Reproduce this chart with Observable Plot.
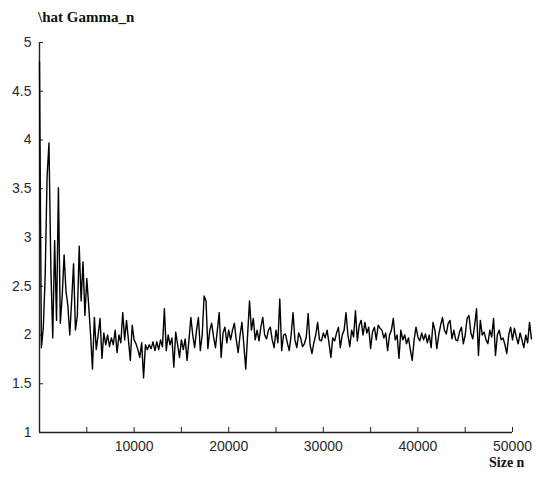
<!DOCTYPE html>
<html>
<head>
<meta charset="utf-8">
<script src="https://cdn.jsdelivr.net/npm/d3@7"></script>
<script src="https://cdn.jsdelivr.net/npm/@observablehq/plot@0.6"></script>
<style>
  html, body { margin: 0; padding: 0; background: #fff; }
  #wrap { position: relative; width: 543px; height: 480px; overflow: hidden; }
  .lbl { position: absolute; font-family: "Liberation Serif", "Times New Roman", serif; font-weight: bold; color: #111; white-space: nowrap; }
</style>
</head>
<body>
<div id="wrap">
  <div class="lbl" id="title" style="left:38px; top:9px; font-size:15px;">\hat Gamma_n</div>
  <div class="lbl" id="xlab" style="left:489px; top:455px; font-size:14px;">Size n</div>
</div>
<script>
// sample sizes n (step 200, 0 .. 52000)
const sizes = d3.range(0, 52001, 200);
// estimated \hat Gamma_n values
const gammaHat = [
  4.8, 1.87, 2.07, 2.6, 3.62, 3.97, 2.69, 1.97, 2.97, 2.15,
  3.51, 2.12, 2.4, 2.82, 2.45, 2.3, 2.0, 2.35, 2.73, 2.05,
  2.2, 2.91, 2.35, 2.75, 2.2, 2.58, 2.3, 2.0, 1.65, 2.18,
  1.85,
  2.0, 2.17, 1.76, 2.02, 1.9, 2.0, 1.88, 1.97, 1.9, 2.05,
  1.82, 2.0, 1.92, 2.23, 1.95, 2.15, 1.95, 1.74, 2.1, 1.95,
  1.91, 1.85, 1.77, 1.92, 1.56, 1.9, 1.85, 1.9, 1.86, 1.93,
  1.84, 1.93, 1.85, 1.95, 1.88, 2.27, 1.84, 2.0, 1.9, 1.97,
  1.67, 2.03, 1.9, 1.77, 1.95, 1.85, 1.96, 1.74, 1.95, 2.18,
  2.0, 1.87, 2.05, 2.18, 1.84, 2.0, 2.40, 2.35, 1.86, 2.05,
  2.12, 1.98, 1.87, 2.05, 2.23, 1.77, 2.02, 2.08, 1.92, 2.05,
  1.95, 2.05, 2.12, 1.95, 1.82, 2.0, 2.13, 1.9, 1.65, 2.0,
  2.35, 2.05, 2.17, 1.95, 2.05, 1.94, 2.08, 2.18, 2.0, 1.96,
  2.05, 2.08, 1.95, 1.87, 2.05, 1.92, 2.37, 1.84, 2.0, 2.01,
  1.92, 1.84, 2.0, 2.23, 1.95, 1.87, 2.02, 1.97, 1.88, 1.91,
  1.98, 2.22, 1.9, 1.81, 1.92, 2.0, 2.13, 1.95, 1.94, 2.02,
  1.97, 2.05, 1.92, 1.77, 1.97, 1.94, 2.02, 2.08, 1.87, 2.0,
  2.05, 2.23, 2.0, 1.88, 2.05, 1.98, 2.25, 1.94, 2.1, 2.15,
  2.0, 2.13, 2.02, 2.08, 1.86, 2.03, 2.08, 1.95, 2.1, 2.07,
  2.05, 1.97, 2.02, 1.84, 2.0, 2.05, 2.17, 1.95, 2.0, 1.76,
  2.05, 1.95, 2.0, 1.91, 1.97, 1.85, 1.74, 1.95, 2.08, 1.98,
  1.94, 2.02, 1.95, 2.01, 1.92, 2.0, 1.87, 2.13, 2.05, 1.86,
  2.0, 2.1, 2.18, 2.05, 2.01, 2.12, 2.15, 1.96, 2.05, 1.95,
  1.94, 2.03, 2.08, 1.91, 2.0, 2.17, 2.2, 2.02, 1.96, 2.1,
  2.27, 1.79, 2.15, 2.0, 2.03, 1.95, 1.91, 2.05, 1.98, 2.17,
  1.79, 2.0, 2.05, 1.95, 1.97, 1.9, 1.81, 2.0, 2.08, 1.95,
  2.07, 1.98, 1.91, 2.02, 1.95, 1.87, 2.0, 1.92, 2.13, 1.96
];
const xTicks = d3.range(5000, 50001, 5000);
const xLabeled = [10000, 20000, 30000, 40000, 50000];
const yTicks = [1, 1.5, 2, 2.5, 3, 3.5, 4, 4.5, 5];

const data = sizes.map((n, i) => ({n, g: gammaHat[i]})).filter(d => d.g !== undefined);

const chart = Plot.plot({
  width: 543,
  height: 480,
  marginLeft: 39,
  marginRight: 31,
  marginTop: 42,
  marginBottom: 48,
  x: {domain: [0, 50000]},
  y: {domain: [1, 5]},
  style: {fontFamily: "'Liberation Sans', Arial, sans-serif", fontSize: "14px", color: "#2a2a2a", background: "white"},
  marks: [
    Plot.axisY({ticks: yTicks, tickSize: -4, tickPadding: 12, tickFormat: d => String(d), label: null, stroke: "#222"}),
    Plot.axisX({ticks: xTicks, tickSize: -5, tickPadding: 14, tickFormat: d => xLabeled.includes(d) ? String(d) : "", label: null, stroke: "#222"}),
    Plot.ruleX([0], {stroke: "#222", strokeWidth: 1.4}),
    Plot.ruleY([1], {stroke: "#222", strokeWidth: 1.4}),
    Plot.line(data, {x: "n", y: "g", stroke: "black", strokeWidth: 1.4})
  ]
});
document.getElementById("wrap").prepend(chart);
chart.style.position = "absolute";
chart.style.left = "0";
chart.style.top = "0";
</script>
</body>
</html>
